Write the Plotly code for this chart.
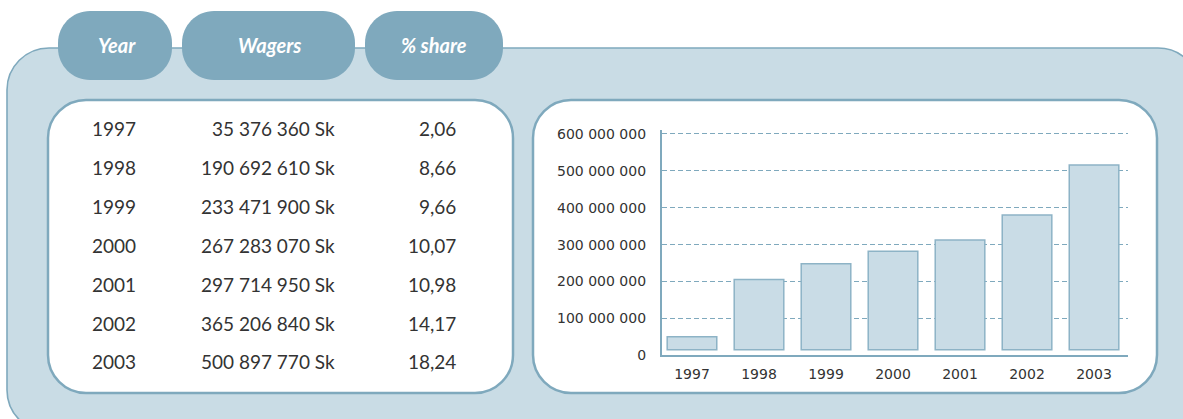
import plotly.graph_objects as go

# ---- data ----
years = ["1997", "1998", "1999", "2000", "2001", "2002", "2003"]
wagers = [35376360, 190692610, 233471900, 267283070, 297714950, 365206840, 500897770]
share = [2.06, 8.66, 9.66, 10.07, 10.98, 14.17, 18.24]
headers = ["Year", "Wagers", "% share"]
y_ticks = [0, 100000000, 200000000, 300000000, 400000000, 500000000, 600000000]

# ---- page geometry (pixels) ----
W, H = 1183, 419
PANEL = "#c9dce5"
ACCENT = "#7fa9bd"
TEXT = "#333333"
BAR_FILL = "#c9dce6"
BAR_EDGE = "#8db3c6"


def px(x):
    return x / W


def py(y):
    return 1 - y / H


def rounded_rect(x0, y0, x1, y1, r):
    """SVG path (paper coords) of a rounded rectangle given in pixels."""
    k = 0.5523 * r
    pts = [
        f"M {px(x0 + r)},{py(y0)}",
        f"L {px(x1 - r)},{py(y0)}",
        f"C {px(x1 - r + k)},{py(y0)} {px(x1)},{py(y0 + r - k)} {px(x1)},{py(y0 + r)}",
        f"L {px(x1)},{py(y1 - r)}",
        f"C {px(x1)},{py(y1 - r + k)} {px(x1 - r + k)},{py(y1)} {px(x1 - r)},{py(y1)}",
        f"L {px(x0 + r)},{py(y1)}",
        f"C {px(x0 + r - k)},{py(y1)} {px(x0)},{py(y1 - r + k)} {px(x0)},{py(y1 - r)}",
        f"L {px(x0)},{py(y0 + r)}",
        f"C {px(x0)},{py(y0 + r - k)} {px(x0 + r - k)},{py(y0)} {px(x0 + r)},{py(y0)}",
        "Z",
    ]
    return " ".join(pts)


def box(x0, y0, x1, y1, r, fill, line_color, line_width):
    return dict(
        type="path", xref="paper", yref="paper", layer="below",
        path=rounded_rect(x0, y0, x1, y1, r),
        fillcolor=fill, line=dict(color=line_color, width=line_width),
    )


shapes = [
    # outer light-blue panel
    box(7, 48, 1200, 432, 42, PANEL, ACCENT, 1.6),
    # header tabs
    box(58, 11, 172, 80, 32, ACCENT, ACCENT, 0),
    box(182, 11, 355, 80, 32, ACCENT, ACCENT, 0),
    box(365, 11, 503, 80, 32, ACCENT, ACCENT, 0),
    # white table box and chart box
    box(48, 100, 513, 393, 38, "white", ACCENT, 2.5),
    box(533, 100, 1157, 393, 38, "white", ACCENT, 2.5),
]

annotations = []
# header labels
for label, cx in zip(headers, [117, 269, 434]):
    annotations.append(dict(
        xref="paper", yref="paper", x=px(cx), y=py(45), text=f"<b><i>{label}</i></b>",
        showarrow=False, xanchor="center", yanchor="middle",
        font=dict(family="Lato", size=20, color="white"),
    ))

# table rows
row0, row_step = 128.5, 38.9
table_font = dict(family="Lato", size=19, color=TEXT)
for i, (yr, wg, sh) in enumerate(zip(years, wagers, share)):
    yy = py(row0 + i * row_step)
    annotations.append(dict(xref="paper", yref="paper", x=px(114), y=yy, text=yr,
                            showarrow=False, xanchor="center", yanchor="middle", font=table_font))
    annotations.append(dict(xref="paper", yref="paper", x=px(337), y=yy,
                            text=f"{wg:,}".replace(",", " ") + " Sk",
                            showarrow=False, xanchor="right", yanchor="middle", font=table_font))
    annotations.append(dict(xref="paper", yref="paper", x=px(458), y=yy,
                            text=f"{sh:.2f}".replace(".", ","),
                            showarrow=False, xanchor="right", yanchor="middle", font=table_font))

# bar chart (bars sit on a small raised baseline above the axis)
bar_base = 15000000
fig = go.Figure(go.Bar(
    x=years, y=wagers, base=[bar_base] * len(years),
    marker=dict(color=BAR_FILL, line=dict(color=BAR_EDGE, width=1.5)),
    width=0.74,
))

tick_font = dict(family="DejaVu Sans", size=14, color=TEXT)
fig.update_layout(
    width=W, height=H, autosize=False,
    margin=dict(l=0, r=0, t=0, b=0, pad=0),
    paper_bgcolor="white", plot_bgcolor="rgba(0,0,0,0)",
    showlegend=False,
    shapes=shapes, annotations=annotations,
    xaxis=dict(
        domain=[px(661.7), px(1128)],
        type="category", range=[-0.452, 6.507],
        showgrid=False, zeroline=False, automargin=False,
        showline=True, linecolor=ACCENT, linewidth=1.6,
        ticks="outside", ticklen=5, tickcolor="rgba(0,0,0,0)",
        tickfont=tick_font, fixedrange=True,
    ),
    yaxis=dict(
        domain=[py(355.3), py(130.3)],
        range=[0, 610000000], automargin=False,
        tickvals=y_ticks,
        ticktext=[f"{v:,}".replace(",", " ") for v in y_ticks],
        showgrid=True, gridcolor=ACCENT, gridwidth=1, griddash="5px,3px",
        zeroline=False,
        showline=True, linecolor=ACCENT, linewidth=1.6,
        ticks="outside", ticklen=11, tickcolor="rgba(0,0,0,0)",
        tickfont=tick_font, fixedrange=True,
    ),
)

fig.write_html("out.html")
